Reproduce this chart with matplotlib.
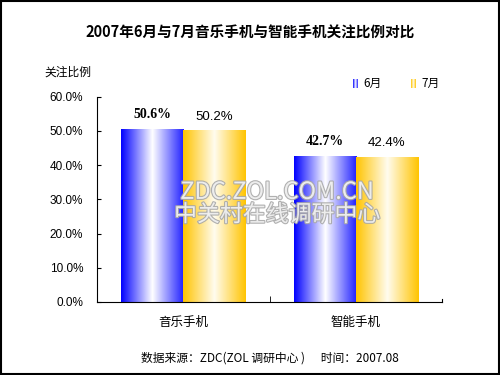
import numpy as np
import matplotlib.pyplot as plt
from matplotlib.colors import LinearSegmentedColormap
import matplotlib.patheffects as pe

plt.rcParams['font.family'] = ['Noto Sans CJK SC', 'DejaVu Sans']

# dados
categorias = ['音乐手机', '智能手机']
series = ['6月', '7月']
jun = [50.6, 42.7]
jul = [50.2, 42.4]
yticks = [0, 10, 20, 30, 40, 50, 60]

# gradientes (borda -> branco -> borda)
cm_azul = LinearSegmentedColormap.from_list('azul', ['#0000ff', '#ffffff', '#2020ff'])
cm_laranja = LinearSegmentedColormap.from_list('laranja', ['#ffc400', '#fffcef', '#ffc400'])

fig = plt.figure(figsize=(5, 3.75), dpi=100)
ax = fig.add_axes([0.194, 0.195, 0.69, 0.547])

x = np.arange(len(categorias))
w = 0.36
grad = np.linspace(0, 1, 256).reshape(1, -1)

def barras_grad(pos, vals, cmap):
	barras = ax.bar(pos, vals, w, color='none', edgecolor='none', zorder=2)
	for b in barras:
		x0, y0 = b.get_x(), b.get_y()
		im = ax.imshow(grad, cmap=cmap, aspect='auto', zorder=2,
					   extent=[x0, x0 + b.get_width(), y0, y0 + b.get_height()])
		im.set_clip_path(b)
	return barras

b1 = barras_grad(x - w / 2, jun, cm_azul)
b2 = barras_grad(x + w / 2, jul, cm_laranja)

# rótulos de valor
for b, v in zip(b1, jun):
	ax.text(b.get_x() + b.get_width() / 2, v + 2.2, f'{v:.1f}%', ha='center',
			va='bottom', fontsize=10, fontweight='bold', family='Liberation Serif')
for b, v in zip(b2, jul):
	ax.text(b.get_x() + b.get_width() / 2, v + 2.2, f'{v:.1f}%', ha='center',
			va='bottom', fontsize=9.5, family='Liberation Sans')

ax.set_xlim(-0.5, len(categorias) - 0.5)
ax.set_ylim(0, 60)
ax.set_yticks(yticks)
ax.set_yticklabels([f'{t:.1f}%' for t in yticks], fontsize=8.5, family='Liberation Sans')
ax.set_xticks([0.5], minor=True)
ax.set_xticks(x)
ax.set_xticklabels(categorias, fontsize=9)
ax.tick_params(axis='x', which='major', length=0, pad=10)
ax.tick_params(axis='x', which='minor', length=4, direction='in')
ax.tick_params(axis='y', length=3, direction='in', pad=10)
for s in ['top', 'right']:
	ax.spines[s].set_visible(False)
ax.spines['bottom'].set_bounds(-0.5, 1.5)
# pequena marca no fim do eixo x
ax.plot([1.5, 1.5], [0, 0.8], color='black', lw=0.8, clip_on=False)

# marca d'água
for txt, yy, fs in [('ZDC.ZOL.COM.CN', 0.487, 17), ('中关村在线调研中心', 0.427, 16.5)]:
	fig.text(0.554, yy, txt, ha='center', va='center', fontsize=fs, color='#f4f4f4',
			 alpha=0.9, zorder=5,
			 path_effects=[pe.withStroke(linewidth=1.6, foreground='#a8a8a8')])

# título e textos
fig.text(0.5, 0.912, '2007年6月与7月音乐手机与智能手机关注比例对比', ha='center',
		 va='center', fontsize=10.5, fontweight='bold')
fig.text(0.088, 0.807, '关注比例', ha='left', va='center', fontsize=8.5)
fig.text(0.54, 0.045, '数据来源：ZDC(ZOL 调研中心 )      时间：2007.08', ha='center',
		 va='center', fontsize=8.5)

# legenda
for i, (nome, cm) in enumerate(zip(series, [cm_azul, cm_laranja])):
	lx = 0.706 + i * 0.116
	lax = fig.add_axes([lx, 0.765, 0.01, 0.025])
	lax.imshow(grad, cmap=cm, aspect='auto')
	lax.axis('off')
	fig.text(lx + 0.021, 0.778, nome, ha='left', va='center', fontsize=8.5)

# moldura
fig.patches.append(plt.Rectangle((0.002, 0.003), 0.995, 0.994, transform=fig.transFigure,
								 fill=False, edgecolor='black', lw=1.5))

fig.savefig('out.png', dpi=100)
